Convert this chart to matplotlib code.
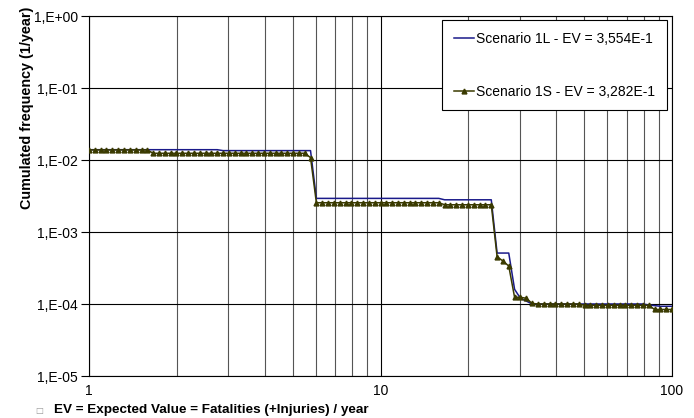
import matplotlib.pyplot as plt
from matplotlib.ticker import FixedLocator, FuncFormatter, NullFormatter

plt.rcParams['font.family'] = ['Liberation Sans', 'DejaVu Sans']

# fatalities axis, points
fat_x = [1.000, 1.047, 1.096, 1.148, 1.202, 1.259, 1.318, 1.380, 1.445, 1.514,
         1.585, 1.660, 1.738, 1.820, 1.905, 1.995, 2.089, 2.188, 2.291, 2.399,
         2.512, 2.630, 2.754, 2.884, 3.020, 3.162, 3.311, 3.467, 3.631, 3.802,
         3.981, 4.169, 4.365, 4.571, 4.786, 5.012, 5.248, 5.495, 5.754, 6.026,
         6.310, 6.607, 6.918, 7.244, 7.586, 7.943, 8.318, 8.710, 9.120, 9.550,
         10.00, 10.47, 10.96, 11.48, 12.02, 12.59, 13.18, 13.80, 14.45, 15.14,
         15.85, 16.60, 17.38, 18.20, 19.05, 19.95, 20.89, 21.88, 22.91, 23.99,
         25.12, 26.30, 27.54, 28.84, 30.20, 31.62, 33.11, 34.67, 36.31, 38.02,
         39.81, 41.69, 43.65, 45.71, 47.86, 50.12, 52.48, 54.95, 57.54, 60.26,
         63.10, 66.07, 69.18, 72.44, 75.86, 79.43, 83.18, 87.10, 91.20, 95.50,
         100.0]

# Scenario 1L cumulated frequency
freq_1l = [1.39e-2, 1.39e-2, 1.39e-2, 1.39e-2, 1.39e-2, 1.39e-2, 1.39e-2, 1.39e-2, 1.39e-2, 1.39e-2,
           1.39e-2, 1.39e-2, 1.39e-2, 1.39e-2, 1.39e-2, 1.39e-2, 1.39e-2, 1.39e-2, 1.39e-2, 1.39e-2,
           1.39e-2, 1.39e-2, 1.39e-2, 1.35e-2, 1.35e-2, 1.35e-2, 1.35e-2, 1.35e-2, 1.35e-2, 1.35e-2,
           1.35e-2, 1.35e-2, 1.35e-2, 1.35e-2, 1.35e-2, 1.35e-2, 1.35e-2, 1.35e-2, 1.35e-2, 2.93e-3,
           2.93e-3, 2.93e-3, 2.93e-3, 2.93e-3, 2.93e-3, 2.93e-3, 2.93e-3, 2.93e-3, 2.93e-3, 2.93e-3,
           2.93e-3, 2.93e-3, 2.93e-3, 2.93e-3, 2.93e-3, 2.93e-3, 2.93e-3, 2.93e-3, 2.93e-3, 2.93e-3,
           2.93e-3, 2.80e-3, 2.80e-3, 2.80e-3, 2.80e-3, 2.80e-3, 2.80e-3, 2.80e-3, 2.80e-3, 2.80e-3,
           5.10e-4, 5.10e-4, 5.10e-4, 1.60e-4, 1.20e-4, 1.10e-4, 1.00e-4, 1.00e-4, 1.00e-4, 1.00e-4,
           1.00e-4, 1.00e-4, 1.00e-4, 1.00e-4, 1.00e-4, 1.00e-4, 1.00e-4, 1.00e-4, 1.00e-4, 1.00e-4,
           1.00e-4, 1.00e-4, 1.00e-4, 1.00e-4, 1.00e-4, 1.00e-4, 9.70e-5, 9.50e-5, 9.30e-5, 9.30e-5,
           9.30e-5]

# Scenario 1S cumulated frequency
freq_1s = [1.38e-2, 1.38e-2, 1.38e-2, 1.38e-2, 1.38e-2, 1.38e-2, 1.38e-2, 1.38e-2, 1.38e-2, 1.38e-2,
           1.38e-2, 1.24e-2, 1.24e-2, 1.24e-2, 1.24e-2, 1.24e-2, 1.24e-2, 1.24e-2, 1.24e-2, 1.24e-2,
           1.24e-2, 1.24e-2, 1.24e-2, 1.24e-2, 1.24e-2, 1.24e-2, 1.24e-2, 1.24e-2, 1.24e-2, 1.24e-2,
           1.24e-2, 1.24e-2, 1.24e-2, 1.24e-2, 1.24e-2, 1.24e-2, 1.24e-2, 1.24e-2, 1.08e-2, 2.55e-3,
           2.55e-3, 2.55e-3, 2.55e-3, 2.55e-3, 2.55e-3, 2.55e-3, 2.55e-3, 2.55e-3, 2.55e-3, 2.55e-3,
           2.55e-3, 2.55e-3, 2.55e-3, 2.55e-3, 2.55e-3, 2.55e-3, 2.55e-3, 2.55e-3, 2.55e-3, 2.55e-3,
           2.55e-3, 2.39e-3, 2.39e-3, 2.39e-3, 2.39e-3, 2.39e-3, 2.39e-3, 2.39e-3, 2.39e-3, 2.39e-3,
           4.54e-4, 3.95e-4, 3.37e-4, 1.24e-4, 1.24e-4, 1.20e-4, 1.02e-4, 1.00e-4, 1.00e-4, 1.00e-4,
           1.00e-4, 1.00e-4, 1.00e-4, 1.00e-4, 1.00e-4, 9.60e-5, 9.60e-5, 9.60e-5, 9.60e-5, 9.60e-5,
           9.60e-5, 9.60e-5, 9.60e-5, 9.60e-5, 9.60e-5, 9.60e-5, 9.60e-5, 8.40e-5, 8.40e-5, 8.40e-5,
           8.40e-5]

labels = ['Scenario 1L - EV = 3,554E-1', 'Scenario 1S - EV = 3,282E-1']
y_ticks = [1e-5, 1e-4, 1e-3, 1e-2, 1e-1, 1e0]
y_tick_labels = ['1,E-05', '1,E-04', '1,E-03', '1,E-02', '1,E-01', '1,E+00']
x_ticks = [1, 10, 100]
x_minor = [2, 3, 4, 5, 6, 7, 8, 9, 20, 30, 40, 50, 60, 70, 80, 90]

fig = plt.figure(figsize=(6.94, 4.18), dpi=100)
ax = fig.add_axes([89 / 694, 1 - 376 / 418, (672 - 89) / 694, (376 - 16) / 418])

ax.plot(fat_x, freq_1l, color='#1a1a8a', lw=1.1, label=labels[0], zorder=3)
ax.plot(fat_x, freq_1s, color='#3a3a00', lw=1.1, marker='^', markersize=3.5,
        label=labels[1], zorder=4)

ax.set_xscale('log')
ax.set_yscale('log')
ax.set_xlim(1, 100)
ax.set_ylim(1e-5, 1)

ax.xaxis.set_major_locator(FixedLocator(x_ticks))
ax.xaxis.set_minor_locator(FixedLocator(x_minor))
ax.xaxis.set_minor_formatter(NullFormatter())
ax.xaxis.set_major_formatter(FuncFormatter(lambda v, p: f'{v:g}'))
ax.yaxis.set_major_locator(FixedLocator(y_ticks))
ax.yaxis.set_minor_locator(FixedLocator([]))
ax.set_yticklabels(y_tick_labels)

ax.grid(which='major', color='black', lw=0.8)
ax.grid(which='minor', axis='x', color='#555555', lw=0.8)
ax.tick_params(axis='x', which='both', length=0, pad=6, labelsize=10)
ax.tick_params(axis='y', length=6, width=0.8, direction='out', labelsize=10, pad=2)
for s in ax.spines.values():
    s.set_color('black')
    s.set_linewidth(0.8)

leg = ax.legend(loc='upper right', bbox_to_anchor=(0.991, 0.989), fontsize=10,
                frameon=True, fancybox=False, handlelength=1.45, handletextpad=0.15,
                labelspacing=2.8, borderpad=0.85, borderaxespad=0)
leg.get_frame().set_edgecolor('black')
leg.get_frame().set_linewidth(0.8)
leg.get_frame().set_alpha(1)

fig.text(27 / 694, 1 - 108 / 418, 'Cumulated frequency (1/year)', rotation=90,
         ha='center', va='center', fontsize=10.4, fontweight='bold')
fig.text(39 / 694, 1 - 410 / 418, '\u25a1', ha='center', va='center', fontsize=6, color='#999999',
         family=['DejaVu Sans'])
fig.text(54 / 694, 1 - 410 / 418, 'EV = Expected Value = Fatalities (+Injuries) / year',
         ha='left', va='center', fontsize=9.7, fontweight='bold')

fig.savefig('out.png', dpi=100)
